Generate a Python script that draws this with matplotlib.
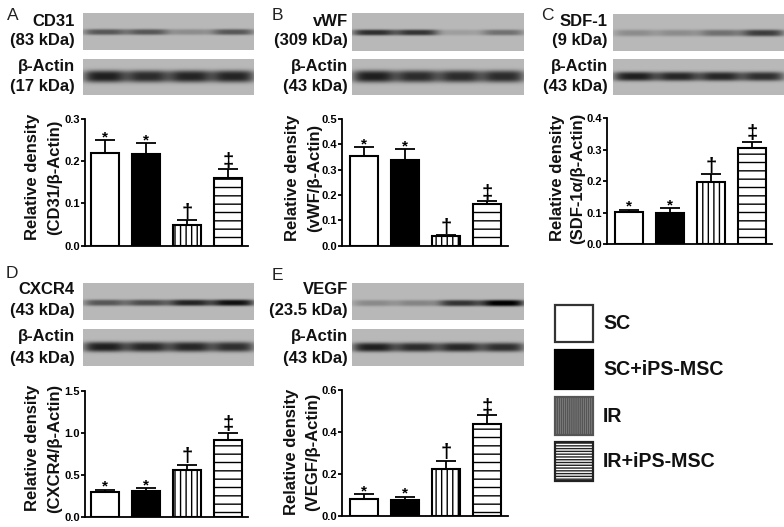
import numpy as np
import matplotlib
matplotlib.use("Agg")
import matplotlib.pyplot as plt
from matplotlib.patches import Rectangle

plt.rcParams['font.family'] = ['Liberation Sans', 'DejaVu Sans']
plt.rcParams['hatch.linewidth'] = 1.0

W, H = 784, 527

groups = ["SC", "SC+iPS-MSC", "IR", "IR+iPS-MSC"]
marks = ["*", "*", "†", "‡"]

# bar heights and upper error
cd31 = [0.22, 0.217, 0.05, 0.16]
cd31_err = [0.03, 0.025, 0.01, 0.021]
vwf = [0.355, 0.337, 0.037, 0.163]
vwf_err = [0.035, 0.043, 0.004, 0.012]
sdf1 = [0.102, 0.098, 0.197, 0.304]
sdf1_err = [0.008, 0.016, 0.025, 0.021]
cxcr4 = [0.295, 0.315, 0.56, 0.92]
cxcr4_err = [0.03, 0.03, 0.06, 0.085]
vegf = [0.083, 0.076, 0.226, 0.438]
vegf_err = [0.02, 0.016, 0.036, 0.041]

# how dark the western blot bands look in each lane
cd31_bands = [0.38, 0.38, 0.17, 0.38]
vwf_bands = [0.54, 0.52, 0.1, 0.28]
sdf1_bands = [0.17, 0.17, 0.28, 0.48]
cxcr4_bands = [0.38, 0.42, 0.58, 0.66]
vegf_bands = [0.18, 0.2, 0.52, 0.74]
actin_a = [0.6, 0.55, 0.58, 0.58]
actin_b = [0.6, 0.55, 0.55, 0.55]
actin_c = [0.6, 0.57, 0.57, 0.54]
actin_d = [0.6, 0.57, 0.57, 0.54]
actin_e = [0.6, 0.55, 0.57, 0.54]


def px_axes(x0, y0, x1, y1):
    return fig.add_axes([x0 / W, 1 - y1 / H, (x1 - x0) / W, (y1 - y0) / H])


def blot(x0, y0, x1, y1, bands, center, sigma):
    ax = px_axes(x0, y0, x1, y1)
    w, h = int(x1 - x0), int(y1 - y0)
    xx, yy = np.meshgrid(np.arange(w), np.arange(h))
    img = np.full((h, w), 0.72)
    for i, s in enumerate(bands):
        cx = (i + 0.5) * w / 4
        lane = np.exp(-np.abs((xx - cx) / (w * 0.125)) ** 4)
        img -= s * lane * np.exp(-np.abs((yy - center * h) / sigma) ** 3)
    ax.imshow(img, cmap="gray", vmin=0, vmax=1, aspect="auto", interpolation="bilinear")
    ax.axis("off")


def chart(x0, x1, first, y_top, y_bot, vals, errs, ymax, step):
    ax = px_axes(x0, y_top, x1, y_bot)
    pos = np.arange(4)
    ax.set_xlim((x0 - first) / 41, (x1 - first) / 41)
    ax.set_ylim(0, ymax)
    styles = [("white", None), ("black", None), ("white", "|||"), ("white", "--")]
    for i in pos:
        ax.bar(i, vals[i], 0.68, color=styles[i][0], hatch=styles[i][1], edgecolor="black", linewidth=1.5)
        ax.errorbar(i, vals[i], yerr=[[0], [errs[i]]], color="black", elinewidth=1.3, capsize=7, capthick=1.3)
        ax.annotate(marks[i], (i, vals[i] + errs[i]), xytext=(0, -3 if i < 2 else -1), textcoords="offset points",
                    ha="center", va="bottom", fontsize=11 if i < 2 else 14.5, fontweight="bold")
    for s in ("top", "right"):
        ax.spines[s].set_visible(False)
    for s in ("left", "bottom"):
        ax.spines[s].set_linewidth(1.3)
    ax.set_xticks([])
    ax.set_yticks(np.arange(0, ymax + step / 2, step))
    ax.set_yticklabels(["%.1f" % t for t in np.arange(0, ymax + step / 2, step)], fontsize=8, fontweight="bold")
    ax.tick_params(axis="y", width=1.3, length=3, pad=0.8)
    ax.patch.set_alpha(0)


fig = plt.figure(figsize=(W / 100, H / 100), dpi=100)

# blots
blot(83, 13, 254, 50, cd31_bands, 0.5, 3.0)
blot(83, 59, 254, 95, actin_a, 0.47, 6.0)
blot(352, 13, 524, 51, vwf_bands, 0.5, 3.0)
blot(352, 59, 524, 95, actin_b, 0.47, 6.0)
blot(613, 14, 784, 51, sdf1_bands, 0.5, 3.4)
blot(613, 59, 784, 95, actin_c, 0.47, 4.6)
blot(83, 283, 254, 320, cxcr4_bands, 0.52, 3.2)
blot(83, 329, 254, 366, actin_d, 0.47, 5.0)
blot(352, 283, 524, 320, vegf_bands, 0.53, 3.2)
blot(352, 329, 524, 366, actin_e, 0.48, 4.6)

# bar charts
chart(85, 248, 105, 119, 245.7, cd31, cd31_err, 0.3, 0.1)
chart(342, 508, 364, 119, 245.7, vwf, vwf_err, 0.5, 0.1)
chart(607, 772, 629, 118, 244.3, sdf1, sdf1_err, 0.4, 0.1)
chart(85, 248, 105, 391, 517, cxcr4, cxcr4_err, 1.5, 0.5)
chart(342, 508, 364, 390, 516, vegf, vegf_err, 0.6, 0.2)

# overlay in pixel coordinates for all the loose text and the legend
ov = fig.add_axes([0, 0, 1, 1])
ov.set_xlim(0, W)
ov.set_ylim(H, 0)
ov.axis("off")
ov.patch.set_alpha(0)

letters = [("A", 7, 15), ("B", 272, 15), ("C", 541, 15), ("D", 6, 274), ("E", 272, 276)]
for t, x, y in letters:
    ov.text(x, y, t, fontsize=12.5, va="center", ha="left", color="#222222")

blot_labels = [
    (75, 21, "CD31"), (75, 41, "(83 kDa)"), (75, 66, "β-Actin"), (75, 86, "(17 kDa)"),
    (348, 21, "vWF"), (348, 41, "(309 kDa)"), (348, 66, "β-Actin"), (348, 86, "(43 kDa)"),
    (608, 21, "SDF-1"), (608, 41, "(9 kDa)"), (608, 67, "β-Actin"), (608, 87, "(43 kDa)"),
    (75, 290, "CXCR4"), (75, 310, "(43 kDa)"), (75, 337, "β-Actin"), (75, 358, "(43 kDa)"),
    (348, 290, "VEGF"), (348, 310, "(23.5 kDa)"), (348, 337, "β-Actin"), (348, 358, "(43 kDa)"),
]
for x, y, t in blot_labels:
    ov.text(x, y, t, fontsize=12, fontweight="bold", ha="right", va="center", color="#111111")

ylabels = [
    (33, 55, 177, "(CD31/β-Actin)"),
    (293, 315, 178, "(vWF/β-Actin)"),
    (558, 578, 178, "(SDF-1α/β-Actin)"),
    (33, 55, 448, "(CXCR4/β-Actin)"),
    (292, 313, 452, "(VEGF/β-Actin)"),
]
for x1, x2, y, t in ylabels:
    ov.text(x1, y, "Relative density", rotation=90, fontsize=12, fontweight="bold", ha="center", va="center", color="#111111")
    ov.text(x2, y, t, rotation=90, fontsize=12, fontweight="bold", ha="center", va="center", color="#111111")

# legend
boxes = [(305, 342), (350, 389), (397, 435), (442, 481)]
fills = [("white", None, "#333333"), ("black", None, "black"), ("#888888", "||||||||", "#555555"), ("white", "------", "#222222")]
for (y0, y1), (fc, ht, ec), g in zip(boxes, fills, groups):
    r = Rectangle((555, y0), 38, y1 - y0, facecolor=fc, hatch=ht, edgecolor=ec, linewidth=1.6)
    ov.add_patch(r)
    ov.text(603, (y0 + y1) / 2, g, fontsize=14.1, fontweight="bold", va="center", ha="left", color="#111111")

fig.savefig("out.png", dpi=100)
